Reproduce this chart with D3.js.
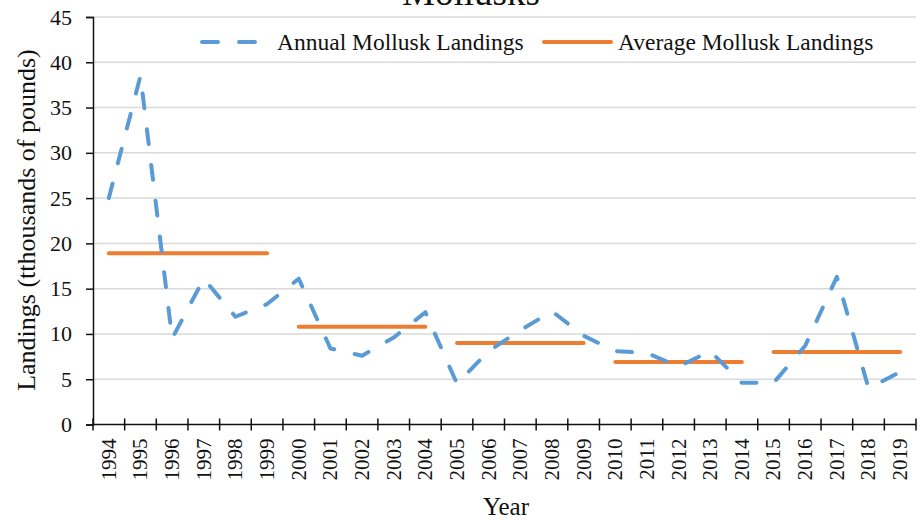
<!DOCTYPE html>
<html>
<head>
<meta charset="utf-8">
<script src="https://cdn.jsdelivr.net/npm/d3@7"></script>
<style>
  body { margin: 0; background: #fff; }
  text { font-family: "Liberation Serif", "Times New Roman", serif; fill: #111; }
</style>
</head>
<body>
<svg id="chart" width="924" height="520"></svg>
<script>
// data
const years = ['1994','1995','1996','1997','1998','1999','2000','2001','2002','2003','2004','2005','2006',
               '2007','2008','2009','2010','2011','2012','2013','2014','2015','2016','2017','2018','2019'];
const annualLandings = [25, 38.5, 9.5, 16.1, 11.9, 13.3, 16.1, 8.4, 7.6, 9.6, 12.4, 4.5, 8.1,
                        10.4, 12.5, 9.8, 8.1, 7.9, 6.4, 8.1, 4.6, 4.6, 8.7, 16.3, 4.0, 5.8];
// average over each 5/6-year block
const avgStart = ['1994','2000','2005','2010','2015'];
const avgEnd   = ['1999','2004','2009','2014','2019'];
const avgValue = [18.9, 10.8, 9.0, 6.9, 8.0];
const yTicks = [0,5,10,15,20,25,30,35,40,45];

const blue = '#5b9bd5', orange = '#ed7d31';
const svg = d3.select('#chart');

const plotLeft = 93, plotRight = 916, plotTop = 17, plotBottom = 424.5;

const xScale = d3.scaleBand().domain(years).range([plotLeft, plotRight]).padding(0);
const yScale = d3.scaleLinear().domain([0, 45]).range([plotBottom, plotTop]);
const cx = d => xScale(d) + xScale.bandwidth()/2;

// gridlines
svg.append('g')
  .selectAll('line')
  .data(yTicks.filter(d => d > 0))
  .join('line')
    .attr('x1', plotLeft).attr('x2', plotRight)
    .attr('y1', d => yScale(d)).attr('y2', d => yScale(d))
    .attr('stroke', '#d9d9d9').attr('stroke-width', 1.5);

// y axis
const yAxis = svg.append('g')
  .attr('transform', `translate(${plotLeft},0)`)
  .call(d3.axisLeft(yScale).tickValues(yTicks).tickSize(7).tickPadding(14));
yAxis.select('.domain').attr('stroke', '#111').attr('stroke-width', 1.5);
yAxis.selectAll('.tick line').attr('stroke', '#111').attr('stroke-width', 1.5);
yAxis.selectAll('.tick text')
  .style('font-family', '"Liberation Serif", serif').attr('font-size', 22).attr('fill', '#111');

// x axis: labels at band centres, ticks at band edges
const xAxis = svg.append('g')
  .attr('transform', `translate(0,${plotBottom})`)
  .call(d3.axisBottom(xScale).tickSize(0).tickPadding(0));
xAxis.select('.domain').remove();
xAxis.selectAll('.tick text')
  .style('font-family', '"Liberation Serif", serif').attr('font-size', 21).attr('fill', '#111')
  .attr('transform', 'rotate(-90)')
  .attr('text-anchor', 'end')
  .attr('x', -14).attr('y', 0).attr('dy', '0.33em');

const edges = years.map(d => xScale(d)).concat([plotRight]);
svg.append('line')
  .attr('x1', plotLeft).attr('x2', plotRight).attr('y1', plotBottom).attr('y2', plotBottom)
  .attr('stroke', '#111').attr('stroke-width', 1.5);
svg.append('g').selectAll('line')
  .data(edges)
  .join('line')
    .attr('x1', d => d).attr('x2', d => d)
    .attr('y1', plotBottom - 6).attr('y2', plotBottom + 6)
    .attr('stroke', '#111').attr('stroke-width', 1.5);

// average segments
svg.append('g').selectAll('line')
  .data(avgValue.map((v, i) => ({s: avgStart[i], e: avgEnd[i], v: v})))
  .join('line')
    .attr('x1', d => cx(d.s)).attr('x2', d => cx(d.e))
    .attr('y1', d => yScale(d.v)).attr('y2', d => yScale(d.v))
    .attr('stroke', orange).attr('stroke-width', 4).attr('stroke-linecap', 'round');

// annual line
const line = d3.line()
  .x((d, i) => cx(years[i]))
  .y(d => yScale(d));
svg.append('path')
  .datum(annualLandings)
  .attr('d', line)
  .attr('fill', 'none')
  .attr('stroke', blue).attr('stroke-width', 4)
  .attr('stroke-linecap', 'round').attr('stroke-linejoin', 'round')
  .attr('stroke-dasharray', '15 21');

// title (cut off at top as in the original)
svg.append('text')
  .attr('x', 471).attr('y', 5)
  .attr('text-anchor', 'middle')
  .attr('font-size', 37)
  .text('Mollusks');

// legend
const legY = 42;
svg.append('line')
  .attr('x1', 202).attr('x2', 255).attr('y1', legY).attr('y2', legY)
  .attr('stroke', blue).attr('stroke-width', 4)
  .attr('stroke-linecap', 'round').attr('stroke-dasharray', '16 21');
svg.append('text').attr('x', 277).attr('y', legY + 8).attr('font-size', 23.5)
  .text('Annual Mollusk Landings');
svg.append('line')
  .attr('x1', 544).attr('x2', 611).attr('y1', legY).attr('y2', legY)
  .attr('stroke', orange).attr('stroke-width', 4).attr('stroke-linecap', 'round');
svg.append('text').attr('x', 618).attr('y', legY + 8).attr('font-size', 23.5)
  .text('Average Mollusk Landings');

// axis titles
svg.append('text')
  .attr('transform', 'translate(35,220) rotate(-90)')
  .attr('text-anchor', 'middle')
  .attr('font-size', 26)
  .text('Landings (tthousands of pounds)');
svg.append('text')
  .attr('x', 506).attr('y', 515)
  .attr('text-anchor', 'middle')
  .attr('font-size', 25)
  .text('Year');
</script>
</body>
</html>
